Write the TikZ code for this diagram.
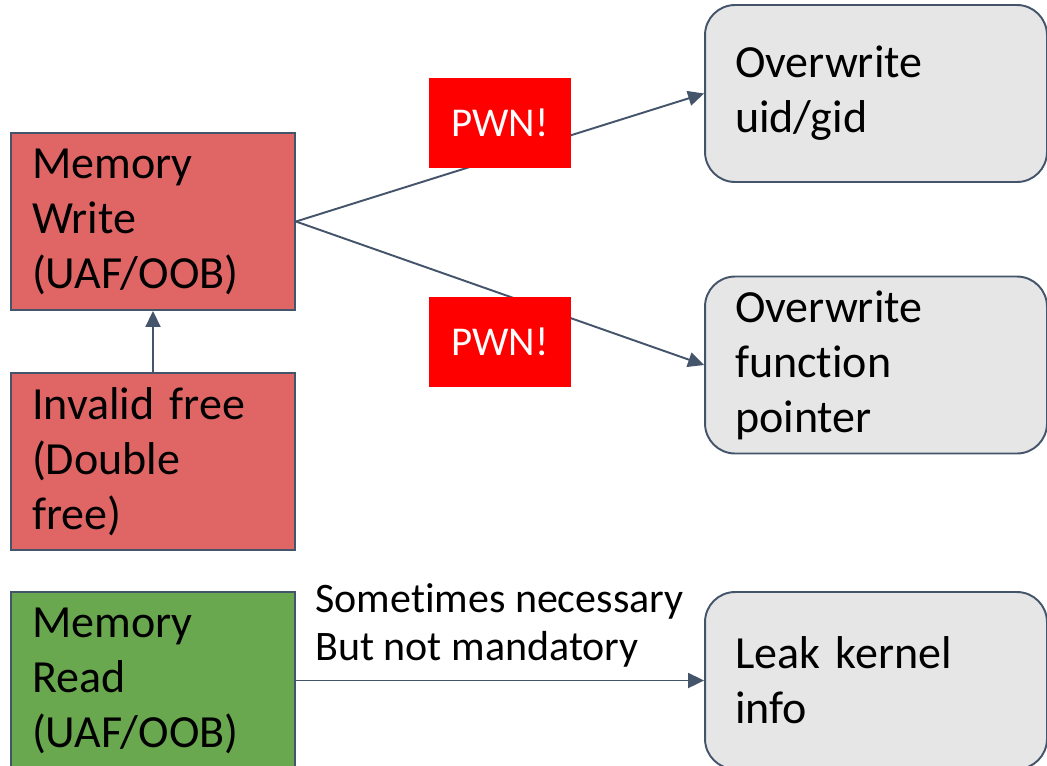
\documentclass[tikz,border=0pt]{standalone}
\usepackage{fontspec}
\setmainfont{Carlito}[Ligatures=NoCommon]
\usetikzlibrary{arrows.meta}
\definecolor{edge}{HTML}{44546A}
\definecolor{bugred}{HTML}{E06666}
\definecolor{readgreen}{HTML}{6AA84F}
\definecolor{goalgrey}{HTML}{E6E6E6}
\tikzset{
  bug/.style={draw=edge,line width=1.1pt,minimum height=3.54cm,text width=4.84cm,inner xsep=0.42cm,align=left,font=\fontsize{26.2}{31.3}\selectfont},
  goal/.style={bug,fill=goalgrey,rounded corners=0.6cm,text width=5.64cm,inner xsep=0.6cm},
  pwn/.style={fill=red,text=white,minimum width=2.84cm,minimum height=1.8cm,inner sep=0pt,font=\fontsize{23.3}{28}\selectfont},
  link/.style={draw=edge,line width=1.1pt,-{Triangle[length=0.32cm,width=0.3cm]}}
}
\begin{document}
\begin{tikzpicture}[x=0.02cm,y=-0.02cm]
  \useasboundingbox (0,0) rectangle (1047,765);
  \clip (0,0) rectangle (1047,765);
  \node[bug,fill=bugred](write)at(153,221.5){Memory\\Write\\(UAF/OOB)};
  \node[bug,fill=bugred](free)at(153,461.5){Invalid free\\(Double\\free)};
  \node[bug,fill=readgreen](read)at(153,680.5){Memory\\Read\\(UAF/OOB)};
  \node[goal](uid)at(876,93.5){Overwrite\\uid/gid};
  \node[goal](fptr)at(876,365){Overwrite\\function\\pointer};
  \node[goal](leak)at(876,680.5){Leak kernel\\info};
  \draw[link](free)--(write);
  \draw[link](write.east)--(uid.west);
  \draw[link](write.east)--(fptr.west);
  \draw[link](read)--(leak);
  \node[pwn](pwn1)at(500,123){PWN!};
  \node[pwn](pwn2)at(500,341.5){PWN!};
  \node[anchor=west,inner sep=0pt,align=left,font=\fontsize{23.9}{27.3}\selectfont](note)at(315,625){Sometimes necessary\\But not mandatory};
\end{tikzpicture}
\end{document}
